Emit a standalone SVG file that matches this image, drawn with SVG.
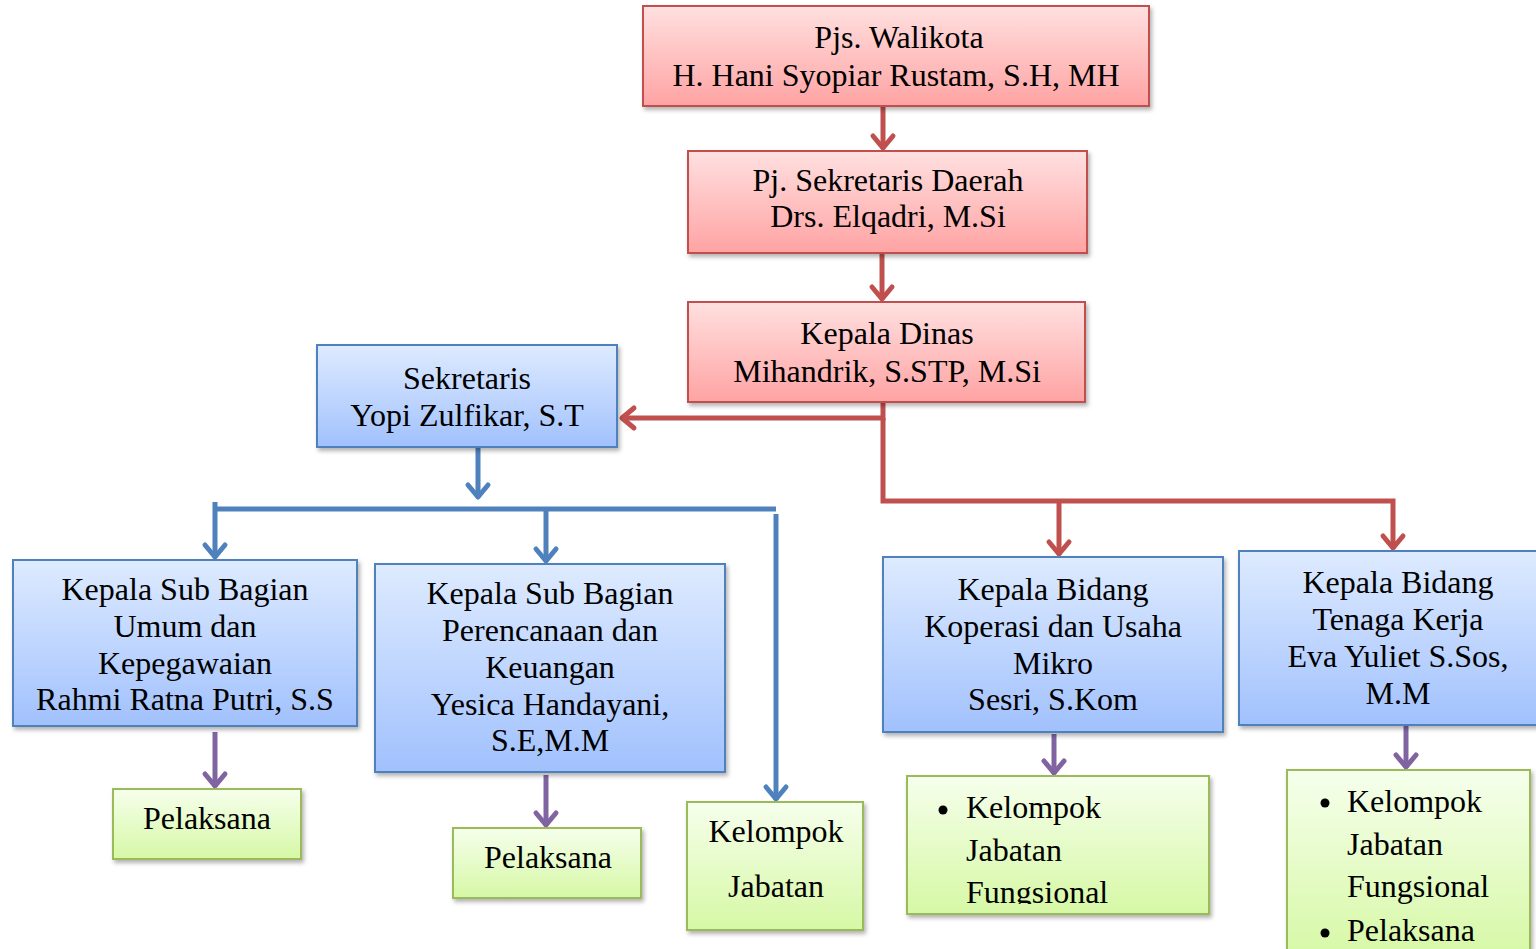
<svg xmlns="http://www.w3.org/2000/svg" width="1536" height="949" viewBox="0 0 1536 949">
<style>
text{font-family:"Liberation Serif","Times New Roman",serif;font-size:32px;fill:#000}
.c{text-anchor:middle}
.red{fill:url(#gr);stroke:#C0504D;stroke-width:2}
.blue{fill:url(#gb);stroke:#4F81BD;stroke-width:2}
.green{fill:url(#gg);stroke:#9BBB59;stroke-width:2}
.lr{fill:none;stroke:#C0504D;stroke-width:5}
.lb{fill:none;stroke:#4F81BD;stroke-width:5}
.lp{fill:none;stroke:#8064A2;stroke-width:5}
</style>
<defs>
<linearGradient id="gr" x1="0" y1="0" x2="0" y2="1"><stop offset="0" stop-color="#FFE0E0"/><stop offset="1" stop-color="#FFA3A3"/></linearGradient>
<linearGradient id="gb" x1="0" y1="0" x2="0" y2="1"><stop offset="0" stop-color="#DEEBFF"/><stop offset="1" stop-color="#A1C1FD"/></linearGradient>
<linearGradient id="gg" x1="0" y1="0" x2="0" y2="1"><stop offset="0" stop-color="#F6FFEC"/><stop offset="1" stop-color="#D6F8A5"/></linearGradient>
<filter id="sh" x="-5%" y="-5%" width="115%" height="125%"><feDropShadow dx="2" dy="3" stdDeviation="2" flood-color="#000" flood-opacity="0.3"/></filter>
<marker id="ar" markerUnits="userSpaceOnUse" viewBox="-16 -14 20 28" markerWidth="20" markerHeight="28" refX="0" refY="0" orient="auto" overflow="visible"><path d="M-13,-10 L-1,0 L-13,10" fill="none" stroke="#C0504D" stroke-width="5" stroke-linecap="round" stroke-linejoin="round"/></marker>
<marker id="ab" markerUnits="userSpaceOnUse" viewBox="-16 -14 20 28" markerWidth="20" markerHeight="28" refX="0" refY="0" orient="auto" overflow="visible"><path d="M-13,-10 L-1,0 L-13,10" fill="none" stroke="#4F81BD" stroke-width="5" stroke-linecap="round" stroke-linejoin="round"/></marker>
<marker id="ap" markerUnits="userSpaceOnUse" viewBox="-16 -14 20 28" markerWidth="20" markerHeight="28" refX="0" refY="0" orient="auto" overflow="visible"><path d="M-13,-10 L-1,0 L-13,10" fill="none" stroke="#8064A2" stroke-width="5" stroke-linecap="round" stroke-linejoin="round"/></marker>
<clipPath id="clipKJF"><rect x="908" y="777" width="300" height="127"/></clipPath>
</defs>

<g id="connectors">
<path class="lr" d="M883,106 V149" marker-end="url(#ar)"/>
<path class="lr" d="M882,253 V300" marker-end="url(#ar)"/>
<path class="lr" d="M883,398 V418 H621" marker-end="url(#ar)"/>
<path class="lr" d="M883,418 V501 H1393 V549" marker-end="url(#ar)"/>
<path class="lr" d="M1059,501 V555" marker-end="url(#ar)"/>
<path class="lb" d="M478,447 V498" marker-end="url(#ab)"/>
<path class="lb" d="M215,502 V558" marker-end="url(#ab)"/>
<path class="lb" d="M215,509 H776"/>
<path class="lb" d="M546,509 V562" marker-end="url(#ab)"/>
<path class="lb" d="M776,514 V800" marker-end="url(#ab)"/>
<path class="lp" d="M215,732 V787" marker-end="url(#ap)"/>
<path class="lp" d="M546,775 V826" marker-end="url(#ap)"/>
<path class="lp" d="M1054,734 V774" marker-end="url(#ap)"/>
<path class="lp" d="M1406,726 V768" marker-end="url(#ap)"/>
</g>

<g id="walikota">
<rect class="red" x="643" y="6" width="506" height="100" filter="url(#sh)"/>
<text class="c" x="899" y="48">Pjs. Walikota</text>
<text class="c" x="896" y="86">H. Hani Syopiar Rustam, S.H, MH</text>
</g>
<g id="sekda">
<rect class="red" x="688" y="151" width="399" height="102" filter="url(#sh)"/>
<text class="c" x="888" y="191">Pj. Sekretaris Daerah</text>
<text class="c" x="888" y="227">Drs. Elqadri, M.Si</text>
</g>
<g id="kadis">
<rect class="red" x="688" y="302" width="397" height="100" filter="url(#sh)"/>
<text class="c" x="887" y="344">Kepala Dinas</text>
<text class="c" x="887" y="382">Mihandrik, S.STP, M.Si</text>
</g>
<g id="sekretaris">
<rect class="blue" x="317" y="345" width="300" height="102" filter="url(#sh)"/>
<text class="c" x="467" y="389">Sekretaris</text>
<text class="c" x="467" y="426">Yopi Zulfikar, S.T</text>
</g>
<g id="ksb-umum">
<rect class="blue" x="13" y="560" width="344" height="166" filter="url(#sh)"/>
<text class="c" x="185" y="600">Kepala Sub Bagian</text>
<text class="c" x="185" y="637">Umum dan</text>
<text class="c" x="185" y="674">Kepegawaian</text>
<text class="c" x="185" y="710">Rahmi Ratna Putri, S.S</text>
</g>
<g id="ksb-perencanaan">
<rect class="blue" x="375" y="564" width="350" height="208" filter="url(#sh)"/>
<text class="c" x="550" y="604">Kepala Sub Bagian</text>
<text class="c" x="550" y="641">Perencanaan dan</text>
<text class="c" x="550" y="678">Keuangan</text>
<text class="c" x="550" y="715">Yesica Handayani,</text>
<text class="c" x="550" y="751">S.E,M.M</text>
</g>
<g id="kb-koperasi">
<rect class="blue" x="883" y="557" width="340" height="175" filter="url(#sh)"/>
<text class="c" x="1053" y="600">Kepala Bidang</text>
<text class="c" x="1053" y="637">Koperasi dan Usaha</text>
<text class="c" x="1053" y="674">Mikro</text>
<text class="c" x="1053" y="710">Sesri, S.Kom</text>
</g>
<g id="kb-tenaga-kerja">
<rect class="blue" x="1239" y="551" width="305" height="174" filter="url(#sh)"/>
<text class="c" x="1398" y="593">Kepala Bidang</text>
<text class="c" x="1398" y="630">Tenaga Kerja</text>
<text class="c" x="1398" y="667">Eva Yuliet S.Sos,</text>
<text class="c" x="1398" y="704">M.M</text>
</g>
<g id="pelaksana-1">
<rect class="green" x="113" y="789" width="188" height="70" filter="url(#sh)"/>
<text class="c" x="207" y="829">Pelaksana</text>
</g>
<g id="pelaksana-2">
<rect class="green" x="453" y="828" width="188" height="70" filter="url(#sh)"/>
<text class="c" x="548" y="868">Pelaksana</text>
</g>
<g id="kelompok-jabatan">
<rect class="green" x="687" y="802" width="176" height="128" filter="url(#sh)"/>
<text class="c" x="776" y="842">Kelompok</text>
<text class="c" x="776" y="897">Jabatan</text>
</g>
<g id="kjf-koperasi">
<rect class="green" x="907" y="776" width="302" height="138" filter="url(#sh)"/>
<g clip-path="url(#clipKJF)">
<circle cx="943" cy="810" r="4.5"/>
<text x="966" y="818">Kelompok</text>
<text x="966" y="861">Jabatan</text>
<text x="966" y="903">Fungsional</text>
</g>
</g>
<g id="kjf-tenaga-kerja">
<rect class="green" x="1287" y="770" width="243" height="190" filter="url(#sh)"/>
<circle cx="1325" cy="803" r="4.5"/>
<text x="1347" y="812">Kelompok</text>
<text x="1347" y="855">Jabatan</text>
<text x="1347" y="897">Fungsional</text>
<circle cx="1325" cy="933" r="4.5"/>
<text x="1347" y="941">Pelaksana</text>
</g>
</svg>
